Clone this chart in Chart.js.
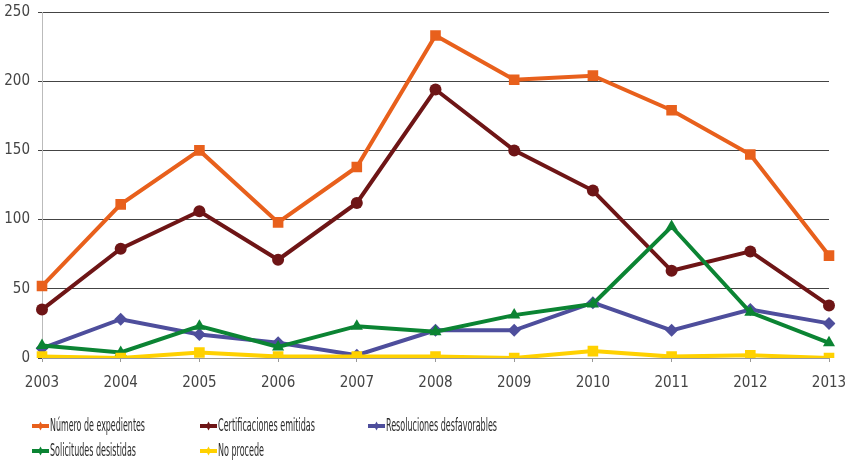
<!DOCTYPE html>
<html>
<head>
<meta charset="utf-8">
<script src="https://cdn.jsdelivr.net/npm/chart.js@4.4.1/dist/chart.umd.min.js"></script>
<style>
    html, body { margin: 0; padding: 0; background: #fff; }
    #wrap { width: 847px; height: 462px; position: relative; }
</style>
</head>
<body>
<div id="wrap"><canvas id="chart" width="847" height="462"></canvas></div>
<script>
const years = ['2003', '2004', '2005', '2006', '2007', '2008', '2009', '2010', '2011', '2012', '2013'];
const expedientes = [52, 111, 150, 98, 138, 233, 201, 204, 179, 147, 74];
const certificaciones = [35, 79, 106, 71, 112, 194, 150, 121, 63, 77, 38];
const desfavorables = [7, 28, 17, 11, 2, 20, 20, 40, 20, 35, 25];
const desistidas = [9, 4, 23, 8, 23, 19, 31, 39, 95, 33, 11];
const noProcede = [1, 0, 4, 1, 1, 1, 0, 5, 1, 2, 0];
const yTicks = [0, 50, 100, 150, 200, 250];

const FONT = '"Liberation Sans Narrow", "DejaVu Sans Condensed", sans-serif';

const series = [
    {label: 'Número de expedientes', data: expedientes, color: '#E8601C', style: 'rect', radius: 7.5},
    {label: 'Certificaciones emitidas', data: certificaciones, color: '#6E1516', style: 'circle', radius: 6},
    {label: 'Resoluciones desfavorables', data: desfavorables, color: '#4E4E9C', style: 'rectRot', radius: 6.5},
    {label: 'Solicitudes desistidas', data: desistidas, color: '#0B8433', style: 'triangle', radius: 7},
    {label: 'No procede', data: noProcede, color: '#FFD100', style: 'rect', radius: 7.5}
];

// legend slots: column x, row y, text width
const legendPos = [[32, 426, 95], [200, 426, 97], [368, 426, 111], [32, 451, 86], [200, 451, 46]];

const bottomLegend = {
    id: 'bottomLegend',
    afterDraw(chart) {
        const ctx = chart.ctx;
        ctx.save();
        series.forEach((s, i) => {
            const [x, y, w] = legendPos[i];
            ctx.strokeStyle = s.color;
            ctx.lineWidth = 4;
            ctx.beginPath();
            ctx.moveTo(x, y);
            ctx.lineTo(x + 17, y);
            ctx.stroke();
            ctx.fillStyle = s.color;
            ctx.beginPath();
            ctx.moveTo(x + 8.5, y - 4.5);
            ctx.lineTo(x + 11, y);
            ctx.lineTo(x + 8.5, y + 4.5);
            ctx.lineTo(x + 6, y);
            ctx.closePath();
            ctx.fill();
            ctx.fillStyle = '#2a2a2a';
            ctx.font = '17px ' + FONT;
            ctx.textBaseline = 'middle';
            ctx.textAlign = 'left';
            ctx.fillText(s.label, x + 18, y + 1, w);
        });
        ctx.restore();
    }
};

new Chart(document.getElementById('chart'), {
    type: 'line',
    data: {
        labels: years,
        datasets: series.map(s => ({
            label: s.label,
            data: s.data,
            borderColor: s.color,
            backgroundColor: s.color,
            borderWidth: 4,
            pointStyle: s.style,
            pointRadius: s.radius,
            pointBorderWidth: 0,
            tension: 0,
            fill: false
        })).reverse()
    },
    options: {
        responsive: false,
        animation: false,
        layout: {padding: {top: 12, right: 18, bottom: 74, left: 0}},
        plugins: {
            legend: {display: false},
            tooltip: {enabled: false}
        },
        scales: {
            x: {
                offset: false,
                grid: {drawOnChartArea: false, color: '#999', tickLength: 4},
                border: {color: '#999', width: 1},
                ticks: {color: '#444', font: {family: FONT, size: 15}, padding: 12, maxRotation: 0},
                afterFit(scale) {
                    scale.height = 30;
                    scale.paddingLeft = 0;
                    scale.paddingRight = 0;
                }
            },
            y: {
                min: 0,
                max: 250,
                afterBuildTicks(scale) { scale.ticks = yTicks.map(v => ({value: v})); },
                grid: {color: '#444', lineWidth: 1, tickLength: 4},
                border: {color: '#bbb', width: 1},
                ticks: {color: '#444', font: {family: FONT, size: 15}, padding: 8},
                afterFit(scale) {
                    scale.width = 42;
                    scale.paddingTop = 0;
                    scale.paddingBottom = 0;
                }
            }
        }
    },
    plugins: [bottomLegend]
});
</script>
</body>
</html>
